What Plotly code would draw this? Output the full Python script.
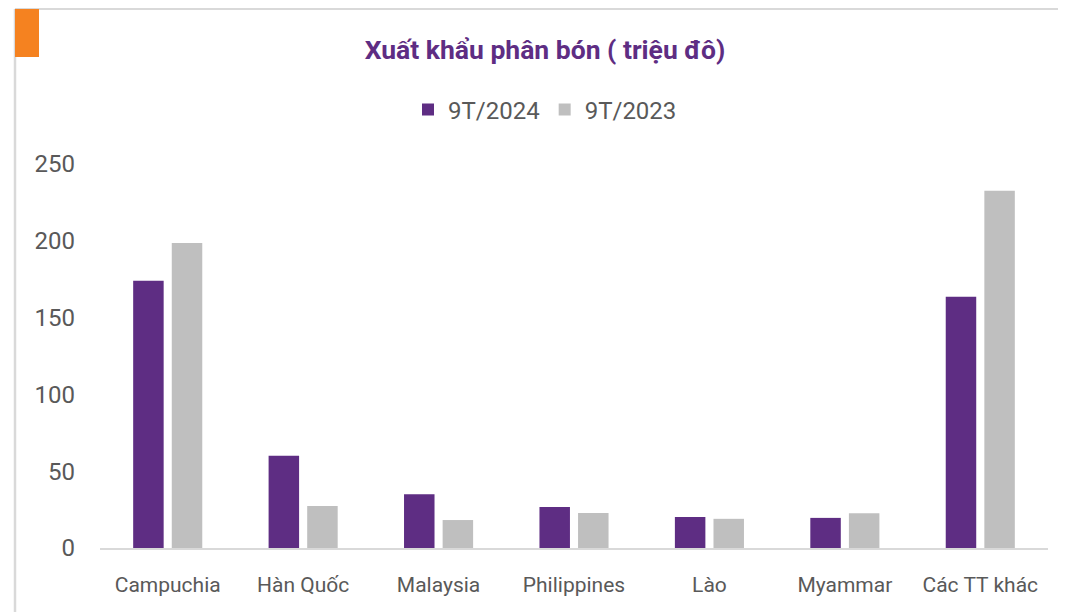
import plotly.graph_objects as go

categories = ["Campuchia", "Hàn Quốc", "Malaysia", "Philippines", "Lào", "Myammar", "Các TT khác"]
values_2024 = [174, 60, 35, 26.7, 20.2, 19.6, 163.5]
values_2023 = [198.5, 27.4, 18.2, 22.8, 19, 22.6, 232.6]
series_names = ["9T/2024", "9T/2023"]
y_ticks = [0, 50, 100, 150, 200, 250]

PURPLE = "#5E2D83"
GRAY = "#BFBFBF"
ORANGE = "#F58220"
FONT = "Roboto"

fig = go.Figure()
fig.add_trace(go.Bar(x=categories, y=values_2024, name=series_names[0],
                     marker=dict(color=PURPLE, line=dict(width=0))))
fig.add_trace(go.Bar(x=categories, y=values_2023, name=series_names[1],
                     marker=dict(color=GRAY, line=dict(width=0))))

# screen pixel -> paper coordinates (plot area on screen x 100..1048, y 164..548)
def px(x):
    return (x - 100) / 948.0

def py(y):
    return (548 - y) / 384.0

fig.update_layout(
    width=1066, height=612,
    margin=dict(l=92, r=26, t=156, b=72),
    paper_bgcolor="white", plot_bgcolor="white",
    barmode="group", bargap=0.43, bargroupgap=0.21,
    font=dict(family=FONT, color="#595959", size=22),
    title=dict(text="<b>Xuất khẩu phân bón ( triệu đô)</b>",
               font=dict(family=FONT, size=26.5, color=PURPLE),
               x=px(545), xref="paper", xanchor="center",
               y=1 - 42 / 612, yref="container", yanchor="middle"),
    legend=dict(orientation="h", x=px(408), xanchor="left",
                y=py(110), yanchor="middle",
                font=dict(family=FONT, size=24, color="#595959"),
                itemwidth=30, tracegroupgap=0, bgcolor="rgba(0,0,0,0)"),
    xaxis=dict(showgrid=False, showline=True, linecolor="#D9D9D9", linewidth=2,
               ticks="", tickfont=dict(family=FONT, size=21, color="#595959"),
               ticklabelstandoff=17),
    yaxis=dict(range=[0, 250], tickvals=y_ticks, showgrid=False, zeroline=False,
               showline=False, ticks="",
               tickfont=dict(family=FONT, size=24, color="#595959"),
               ticklabelstandoff=24),
    shapes=[
        dict(type="line", xref="paper", yref="paper", x0=px(15), x1=px(1080),
             y0=py(9), y1=py(9), line=dict(color="#D9D9D9", width=2)),
        dict(type="line", xref="paper", yref="paper", x0=px(15), x1=px(15),
             y0=py(9), y1=py(640), line=dict(color="#D9D9D9", width=2.5)),
        dict(type="rect", xref="paper", yref="paper", x0=px(15), x1=px(39),
             y0=py(57), y1=py(9), line=dict(width=0), fillcolor=ORANGE),
    ],
)

fig.write_html("out.html")
